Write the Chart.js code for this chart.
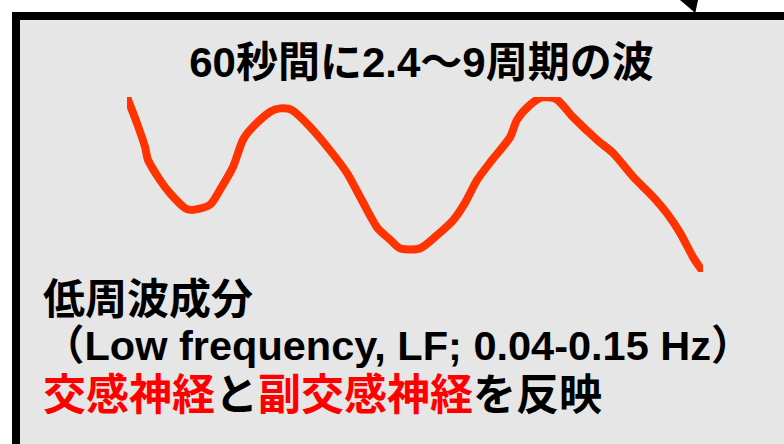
<!DOCTYPE html>
<html>
<head>
<meta charset="utf-8">
<script src="https://cdn.jsdelivr.net/npm/chart.js"></script>
<style>
  body { margin: 0; background: #fff; width: 784px; height: 444px; overflow: hidden; position: relative;
         font-family: "Liberation Sans", Arial, "Noto Sans CJK JP", sans-serif; font-weight: bold; }
  #box { position: absolute; left: 12px; top: 12px; width: 800px; height: 460px;
         background: #e6e6e6; border: 8px solid #000; }
  #arrow { position: absolute; left: 680px; top: 0; width: 18px; height: 13px; background: #000;
           clip-path: polygon(0 0, 100% 0, 85% 100%); }
  .txt { position: absolute; white-space: nowrap; color: #000; line-height: 1; }
  #title { left: 0; width: 843px; text-align: center; top: 42px; font-size: 42px; }
  #l1 { left: 43px; top: 279px; font-size: 42px; }
  #l2 { left: 43px; top: 325px; font-size: 41.5px; }
  #l3 { left: 43px; top: 374px; font-size: 43px; }
  .red { color: #ff0000; }
  #wrap { position: absolute; left: 127px; top: 97px; width: 576px; height: 175px; }
</style>
</head>
<body>
<div id="box"></div>
<div id="arrow"></div>
<div class="txt" id="title">60秒間に2.4〜9周期の波</div>
<div class="txt" id="l1">低周波成分</div>
<div class="txt" id="l2">（Low frequency, LF; 0.04-0.15 Hz）</div>
<div class="txt" id="l3"><span class="red">交感神経</span>と<span class="red">副交感神経</span>を反映</div>
<div id="wrap"><canvas id="wave"></canvas></div>
<script>
// time in seconds, amplitude in arbitrary units
var timeValues = [0, 1.04, 1.88, 2.19, 3.44, 4.48, 6.04, 6.88, 8.65, 9.69, 11.04, 12.08, 13.13, 14.9, 15.94, 17.19,
  19.06, 21.15, 22.92, 24.27, 26.04, 27.4, 28.44, 30.52, 32.29, 33.96, 35.21, 36.46, 37.81, 39.9, 40.63, 41.98,
  43.33, 44.79, 46.46, 48.96, 50.63, 52.71, 54.79, 56.25, 57.6, 58.96, 60];
var ampValues = [1.0, 0.7, 0.43, 0.28, 0.05, -0.1, -0.27, -0.29, -0.23, -0.06, 0.2, 0.51, 0.66, 0.83, 0.87, 0.85,
  0.66, 0.39, 0.13, -0.14, -0.49, -0.63, -0.73, -0.73, -0.58, -0.41, -0.21, 0.05, 0.25, 0.54, 0.74, 0.91,
  1.0, 0.97, 0.77, 0.51, 0.36, 0.09, -0.14, -0.33, -0.55, -0.83, -1.0];

var pts = timeValues.map(function (t, i) { return {x: t, y: ampValues[i]}; });

new Chart("wave", {
  type: "line",
  data: {
    datasets: [{
      data: pts,
      borderColor: "#ff3300",
      borderWidth: 8,
      pointRadius: 0,
      tension: 0.25,
      clip: false,
      fill: false
    }]
  },
  options: {
    responsive: true,
    maintainAspectRatio: false,
    animation: false,
    layout: {padding: 0},
    plugins: {legend: {display: false}, tooltip: {enabled: false}},
    scales: {
      x: {type: "linear", min: 0, max: 60, display: false},
      y: {min: -1, max: 1, display: false}
    }
  }
});
</script>
</body>
</html>
